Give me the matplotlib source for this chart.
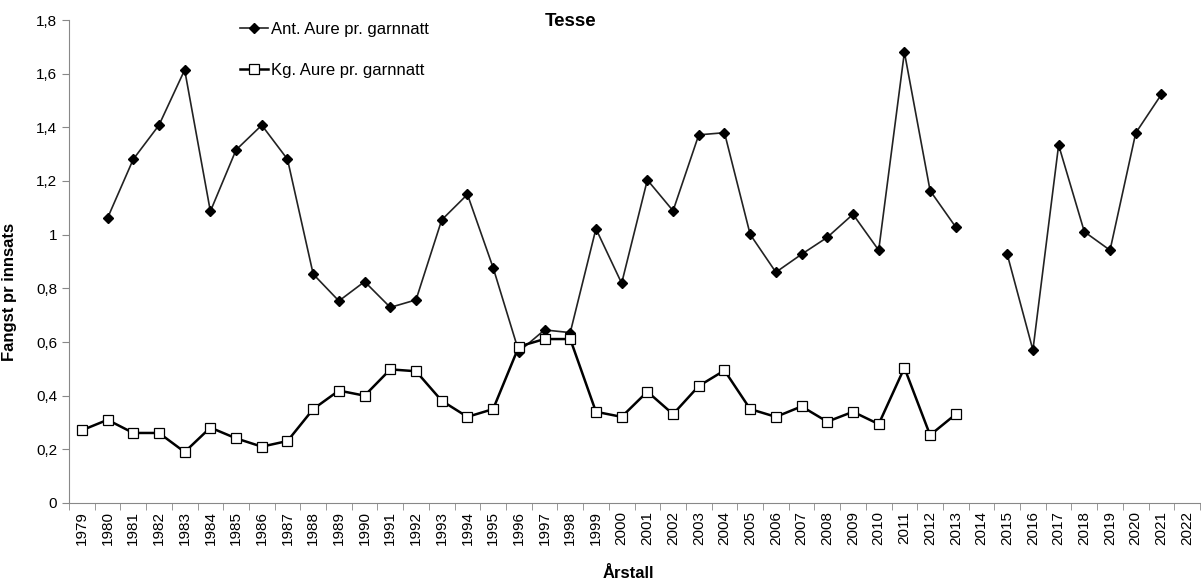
import numpy as np
import matplotlib.pyplot as plt

plt.rcParams['font.family'] = ['Liberation Sans', 'DejaVu Sans']

# Data
years = [str(y) for y in range(1979, 2023)]
ant_aure = [np.nan, 1.062, 1.281, 1.408, 1.614, 1.087, 1.316, 1.408, 1.281, 0.853,
            0.753, 0.825, 0.729, 0.757, 1.055, 1.150, 0.877, 0.564, 0.645, 0.635,
            1.022, 0.819, 1.204, 1.089, 1.372, 1.380, 1.001, 0.860, 0.927, 0.990,
            1.076, 0.942, 1.680, 1.164, 1.028, np.nan, 0.927, 0.570, 1.334, 1.011,
            0.942, 1.379, 1.523, np.nan]
kg_aure = [0.271, 0.310, 0.261, 0.261, 0.190, 0.281, 0.241, 0.210, 0.231, 0.350,
           0.419, 0.400, 0.498, 0.491, 0.381, 0.321, 0.350, 0.583, 0.611, 0.611,
           0.340, 0.321, 0.415, 0.331, 0.436, 0.494, 0.350, 0.321, 0.360, 0.303,
           0.340, 0.294, 0.504, 0.253, 0.331]
y_ticks = [0, 0.2, 0.4, 0.6, 0.8, 1.0, 1.2, 1.4, 1.6, 1.8]

W, H = 1201, 586
fig = plt.figure(figsize=(W / 100, H / 100), dpi=100)
ax = fig.add_axes([69 / W, 83 / H, (1200 - 69) / W, (503 - 20) / H])

x = np.arange(len(years))
ax.plot(x, ant_aure, color='#222222', lw=1.2, marker='D', ms=5,
        mfc='black', mec='black', label='Ant. Aure pr. garnnatt')
ax.plot(x[:len(kg_aure)], kg_aure, color='black', lw=1.8, marker='s', ms=7,
        mfc='white', mec='black', mew=0.9, label='Kg. Aure pr. garnnatt')

ax.set_xlim(-0.5, len(years) - 0.5)
ax.set_ylim(0, 1.8)
ax.set_yticks(y_ticks)
ax.set_yticklabels([f"{v:g}".replace('.', ',') for v in y_ticks], fontsize=11)
ax.set_xticks(x)
ax.set_xticklabels(years, rotation=90, fontsize=11)
ax.set_xticks(np.arange(-0.5, len(years)), minor=True)
ax.tick_params(axis='x', which='major', length=0, pad=6)
ax.tick_params(axis='x', which='minor', length=5, color='#888888')
ax.tick_params(axis='y', length=5, color='#888888')

for side in ('top', 'right'):
    ax.spines[side].set_visible(False)
for side in ('left', 'bottom'):
    ax.spines[side].set_color('#888888')

ax.set_ylabel('Fangst pr innsats', fontsize=12, fontweight='bold')
ax.yaxis.set_label_coords((17 - 69) / (1200 - 69), (503 - 292) / 483)
ax.set_xlabel('Årstall', fontsize=12, fontweight='bold')
ax.xaxis.set_label_coords((628 - 69) / (1200 - 69), -(566 - 503) / 483)
fig.text(571 / W, 1 - 22 / H, 'Tesse', fontsize=13.5, fontweight='bold',
         ha='center', va='center')

ax.legend(loc='upper left', bbox_to_anchor=(240 / W, 1 - 22 / H),
          bbox_transform=fig.transFigure, frameon=False, fontsize=12,
          handlelength=1.65, handletextpad=0.2, labelspacing=1.55,
          borderpad=0, borderaxespad=0)

fig.savefig('out.png', dpi=100)
